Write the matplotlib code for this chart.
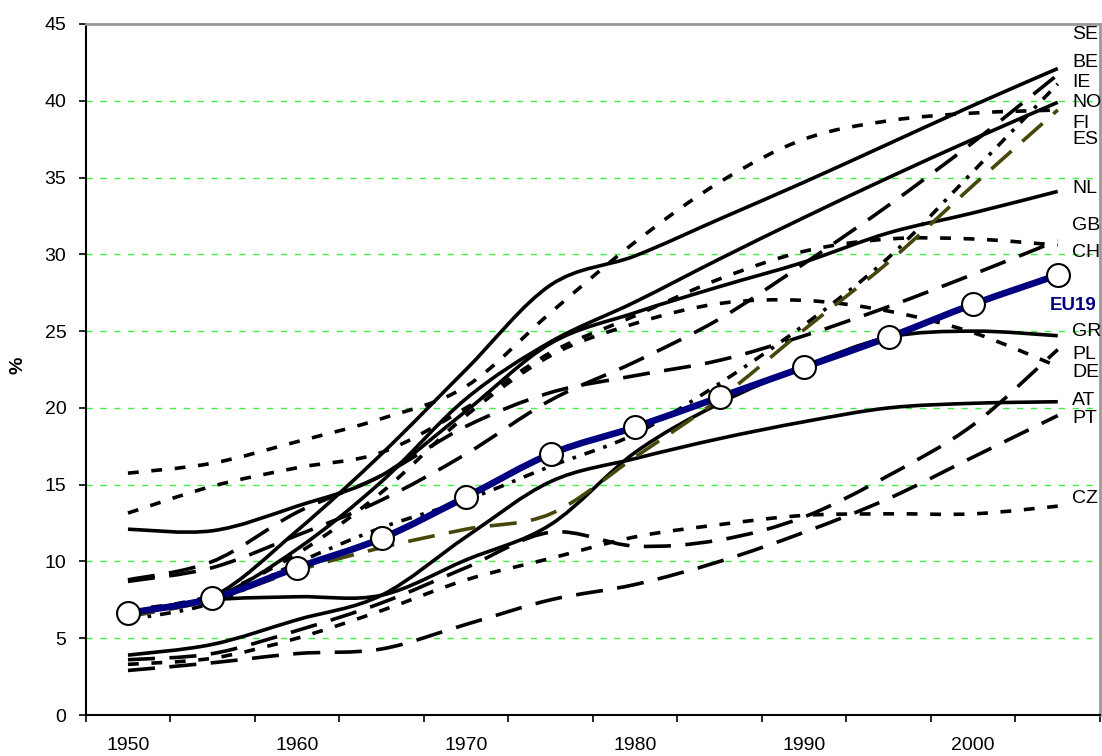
import numpy as np
import matplotlib
matplotlib.use('Agg')
import matplotlib.pyplot as plt
from matplotlib.path import Path
from matplotlib.patches import PathPatch

plt.rcParams['font.family'] = ['Liberation Sans', 'DejaVu Sans']

# data, 5-year steps
years = [1950, 1955, 1960, 1965, 1970, 1975, 1980, 1985, 1990, 1995, 2000, 2005]

SE = [6.7, 7.7, 12.0, 17.0, 22.5, 28.0, 29.9, 32.3, 34.7, 37.2, 39.7, 42.1]
BE = [8.7, 9.6, 11.7, 14.0, 17.0, 20.5, 23.0, 25.8, 29.4, 33.2, 37.3, 41.7]
IE = [6.2, 7.3, 9.9, 12.2, 14.0, 16.2, 18.3, 21.6, 25.4, 29.8, 35.4, 41.1]
NO = [6.7, 7.6, 10.8, 15.2, 20.6, 24.3, 26.9, 29.7, 32.4, 35.0, 37.5, 39.9]
FI = [15.75, 16.4, 17.8, 19.3, 21.4, 26.2, 30.8, 34.7, 37.5, 38.7, 39.2, 39.4]
ES = [6.4, 7.5, 9.4, 10.9, 12.1, 13.1, 16.8, 20.6, 25.1, 29.5, 34.5, 39.4]
NL = [12.1, 12.0, 13.6, 15.6, 19.8, 24.2, 26.2, 27.9, 29.5, 31.4, 32.7, 34.1]
GB = [13.15, 14.9, 16.1, 17.1, 20.0, 23.6, 26.0, 28.4, 30.2, 31.0, 31.0, 30.6]
CH = [8.8, 10.0, 13.2, 15.6, 18.8, 21.0, 22.1, 23.1, 24.7, 26.6, 28.7, 30.9]
GR = [6.7, 7.5, 7.7, 7.8, 10.1, 12.4, 17.1, 20.3, 22.7, 24.6, 25.0, 24.7]
PL = [3.6, 4.0, 5.5, 7.3, 9.6, 11.9, 11.0, 11.4, 12.9, 15.6, 18.9, 23.8]
DE = [6.8, 7.8, 10.5, 14.5, 19.5, 23.4, 25.5, 26.8, 27.0, 26.3, 24.9, 22.7]
AT = [3.9, 4.6, 6.2, 7.8, 11.6, 15.2, 16.7, 18.0, 19.1, 20.0, 20.3, 20.4]
PT = [2.9, 3.4, 4.0, 4.3, 5.9, 7.5, 8.5, 10.0, 11.9, 14.1, 16.8, 19.5]
CZ = [3.3, 3.7, 5.0, 6.8, 8.8, 10.2, 11.6, 12.4, 13.0, 13.1, 13.1, 13.6]
EU19 = [6.64, 7.6, 9.6, 11.5, 14.2, 17.0, 18.75, 20.7, 22.65, 24.6, 26.75, 28.65]

# line styles
solid = '-'
longdash = (0, (7.5, 4))
dotted = (0, (3, 3.5))
dashdot = (0, (3, 2.5, 1, 2.5))

series = [
    ('SE', SE, solid, 'black'),
    ('BE', BE, longdash, 'black'),
    ('IE', IE, dashdot, 'black'),
    ('NO', NO, solid, 'black'),
    ('FI', FI, dotted, 'black'),
    ('NL', NL, solid, 'black'),
    ('GB', GB, dotted, 'black'),
    ('CH', CH, longdash, 'black'),
    ('GR', GR, solid, 'black'),
    ('PL', PL, longdash, 'black'),
    ('DE', DE, dotted, 'black'),
    ('AT', AT, solid, 'black'),
    ('PT', PT, longdash, 'black'),
    ('CZ', CZ, dotted, 'black'),
    ('ES', ES, longdash, '#47470c'),
]

# where the country names sit at the right edge (y in axis units)
label_y = {'SE': 44.3, 'BE': 42.5, 'IE': 41.2, 'NO': 39.9, 'FI': 38.55, 'ES': 37.5,
           'NL': 34.3, 'GB': 31.9, 'CH': 30.15, 'GR': 25.0, 'PL': 23.5, 'DE': 22.3,
           'AT': 20.5, 'PT': 19.3, 'CZ': 14.1}


def smooth_path(x, y):
    # excel style smoothed line as cubic bezier through the points
    pts = np.column_stack([x, y]).astype(float)
    n = len(pts)
    verts = [pts[0]]
    codes = [Path.MOVETO]
    for i in range(n - 1):
        p0 = pts[i - 1] if i > 0 else pts[i]
        p1 = pts[i]
        p2 = pts[i + 1]
        p3 = pts[i + 2] if i + 2 < n else pts[i + 1]
        verts += [p1 + (p2 - p0) / 6.0, p2 - (p3 - p1) / 6.0, p2]
        codes += [Path.CURVE4] * 3
    return Path(verts, codes)


fig = plt.figure(figsize=(11.02, 7.56), dpi=100)
ax = fig.add_axes([85.7 / 1102, 41 / 756, (1100 - 85.7) / 1102, (715 - 24) / 756])

ax.set_xlim(1947.5, 2007.5)
ax.set_ylim(0, 45)

# grid
for g in range(5, 45, 5):
    ax.axhline(g, color='#40f040', lw=1.0, dashes=(4.5, 5.5), zorder=1)

for name, vals, ls, col in series:
    p = PathPatch(smooth_path(years, vals), fill=False, edgecolor=col, lw=2.6,
                  linestyle=ls, capstyle='butt', zorder=3)
    ax.add_patch(p)
    ax.text(2005.85, label_y[name], name, fontsize=14, va='center', ha='left',
            color='black', clip_on=False, zorder=6)

ax.add_patch(PathPatch(smooth_path(years, EU19), fill=False, edgecolor='#000080',
                       lw=4.8, zorder=4))
ax.plot(years, EU19, 'o', ls='none', ms=16.5, mfc='white', mec='black', mew=1.5, zorder=5)
ax.text(2004.5, 26.7, 'EU19', fontsize=13.5, fontweight='bold', color='#000080',
        va='center', ha='left', clip_on=False, zorder=6)

# axes look
ax.set_xticks([1947.5 + 5 * k for k in range(13)])
ax.set_xticklabels([])
ax.set_xticks([1950, 1960, 1970, 1980, 1990, 2000], minor=True)
ax.set_xticklabels(['1950', '1960', '1970', '1980', '1990', '2000'], minor=True, fontsize=14)
ax.tick_params(axis='x', which='major', direction='out', length=5, width=1.2)
ax.tick_params(axis='x', which='minor', length=0, pad=16)
ax.set_yticks(range(0, 46, 5))
ax.tick_params(axis='y', direction='out', length=5, width=1.2, labelsize=14, pad=9)

ax.spines['left'].set_linewidth(1.5)
ax.spines['bottom'].set_linewidth(1.5)
ax.spines['top'].set_color('#999999')
ax.spines['right'].set_color('#999999')
ax.spines['top'].set_linewidth(2)
ax.spines['right'].set_linewidth(2)

fig.text(18 / 1102, 1 - 365 / 756, '%', rotation=90, fontsize=14, fontweight='bold',
         ha='center', va='center')

fig.savefig('out.png', dpi=100)
